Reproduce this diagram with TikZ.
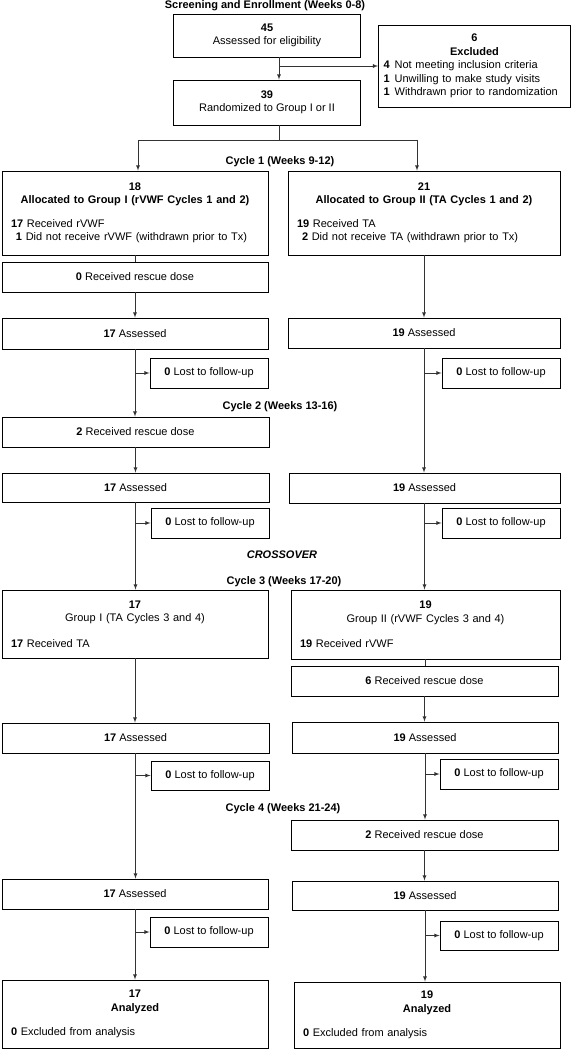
\documentclass[tikz,border=0pt]{standalone}
\usepackage{fontspec}
\setmainfont{Liberation Sans}
\setlength{\parindent}{0pt}

\begin{document}
\begin{tikzpicture}[x=1pt, y=-1pt, >=latex,
    box/.style={draw, line width=0.9pt, inner sep=0pt, minimum height=30pt, align=center, font=\fontsize{11}{13.5}\selectfont},
    info/.style={box, align=left, inner xsep=9pt},
    link/.style={draw=black!80, line width=0.8pt},
    phase/.style={font=\fontsize{11}{13.5}\selectfont\bfseries}]
\useasboundingbox (0,0) rectangle (572,1050);

% screening
\node[phase] (screen) at (265,6) {Screening and Enrollment (Weeks 0-8)};
\node[box, minimum width=187pt, minimum height=43pt] (elig) at (267,35.5) {\textbf{45}\\Assessed for eligibility};
\node[info, inner xsep=5pt, text width=182pt, minimum height=82pt] (excl) at (474.5,66) {{\centering\textbf{6}\\\textbf{Excluded}\par}\mbox{\textbf{4}\hspace{5pt}Not meeting inclusion criteria}\\\mbox{\textbf{1}\hspace{5pt}Unwilling to make study visits}\\\mbox{\textbf{1}\hspace{5pt}Withdrawn prior to randomization}};
\node[box, minimum width=187pt, minimum height=45pt] (rand) at (267,102.5) {\textbf{39}\\Randomized to Group I or II};

% cycle 1 and 2
\node[phase] (cyc1) at (280,162) {Cycle 1 (Weeks 9-12)};
\node[info, text width=248pt, minimum width=266pt, minimum height=84pt] (allocA) at (135,213) {{\centering\textbf{18}\\\textbf{Allocated to Group I (rVWF Cycles 1 and 2)}\par}\vspace{10pt}\textbf{17} Received rVWF\\\hspace*{5pt}\textbf{1} Did not receive rVWF (withdrawn prior to Tx)};
\node[info, text width=254pt, minimum width=272pt, minimum height=84pt] (allocB) at (424,213) {{\centering\textbf{21}\\\textbf{Allocated to Group II (TA Cycles 1 and 2)}\par}\vspace{10pt}\textbf{19} Received TA\\\hspace*{5pt}\textbf{2} Did not receive TA (withdrawn prior to Tx)};

\coordinate (trunk) at ([xshift=12pt]elig.south);
\coordinate (randout) at ([xshift=12pt]rand.south);
\coordinate (split) at (279,140);
\draw[link,->] (trunk) -- ([xshift=12pt]rand.north);
\draw[link,->] (trunk |- excl.west) -- (excl.west);
\draw[link] (randout) -- (split);
\draw[link,->] (split) -| ([xshift=3pt]allocA.north);
\draw[link,->] (split) -| ([xshift=-7pt]allocB.north);

\node[box, minimum width=266pt] (resA1) at (135,277) {\textbf{0} Received rescue dose};
\node[box, minimum width=266pt, minimum height=31pt] (asA1) at (135,333.5) {\textbf{17} Assessed};
\node[box, minimum width=272pt] (asB1) at (424,333) {\textbf{19} Assessed};
\node[box, minimum width=118pt] (lostA1) at (209,373) {\textbf{0} Lost to follow-up};
\node[box, minimum width=118pt] (lostB1) at (501,373) {\textbf{0} Lost to follow-up};

\node[phase] (cyc2) at (280,407) {Cycle 2 (Weeks 13-16)};
\node[box, minimum width=267pt] (resA2) at (135.5,432) {\textbf{2} Received rescue dose};
\node[box, minimum width=267pt, minimum height=29pt] (asA2) at (135.5,487.5) {\textbf{17} Assessed};
\node[box, minimum width=271pt] (asB2) at (424.5,488) {\textbf{19} Assessed};
\node[box, minimum width=118pt] (lostA2) at (210,523) {\textbf{0} Lost to follow-up};
\node[box, minimum width=118pt] (lostB2) at (501,523) {\textbf{0} Lost to follow-up};

\draw[link] (allocA) -- (resA1);
\draw[link,->] (resA1) -- (asA1);
\draw[link,->] (allocB) -- (asB1);
\draw[link,->] (asA1) -- (asA1 |- resA2.north);
\draw[link,->] (asA1.south |- lostA1.west) -- (lostA1.west);
\draw[link,->] (asB1) -- (asB1 |- asB2.north);
\draw[link,->] (asB1.south |- lostB1.west) -- (lostB1.west);
\draw[link,->] (resA2) -- (asA2);

% crossover, cycle 3 and 4
\node[phase, font=\fontsize{11}{13.5}\selectfont\bfseries\itshape] (cross) at (282,555) {CROSSOVER};
\node[phase] (cyc3) at (284,582) {Cycle 3 (Weeks 17-20)};
\node[info, text width=248pt, minimum width=266pt, minimum height=68pt] (grpA) at (135,624) {{\centering\textbf{17}\\Group I (TA Cycles 3 and 4)\par}\vspace{12pt}\textbf{17} Received TA};
\node[info, text width=251pt, minimum width=269pt, minimum height=69pt] (grpB) at (425.5,624.5) {{\centering\textbf{19}\\Group II (rVWF Cycles 3 and 4)\par}\vspace{12pt}\textbf{19} Received rVWF};

\draw[link,->] (asA2) -- (asA2 |- grpA.north);
\draw[link,->] (asA2.south |- lostA2.west) -- (lostA2.west);
\draw[link,->] (asB2) -- (asB2 |- grpB.north);
\draw[link,->] (asB2.south |- lostB2.west) -- (lostB2.west);

\node[box, minimum width=267pt] (resB3) at (424.5,681) {\textbf{6} Received rescue dose};
\node[box, minimum width=267pt] (asA3) at (135.5,738) {\textbf{17} Assessed};
\node[box, minimum width=266pt, minimum height=31pt] (asB3) at (425,737.5) {\textbf{19} Assessed};
\node[box, minimum width=118pt, minimum height=29pt] (lostA3) at (210,775.5) {\textbf{0} Lost to follow-up};
\node[box, minimum width=118pt] (lostB3) at (499,774) {\textbf{0} Lost to follow-up};

\node[phase] (cyc4) at (283,809) {Cycle 4 (Weeks 21-24)};
\node[box, minimum width=267pt] (resB4) at (424.5,835) {\textbf{2} Received rescue dose};
\node[box, minimum width=266pt] (asA4) at (135,894) {\textbf{17} Assessed};
\node[box, minimum width=266pt, minimum height=29pt] (asB4) at (425,895.5) {\textbf{19} Assessed};
\node[box, minimum width=118pt] (lostA4) at (209,932) {\textbf{0} Lost to follow-up};
\node[box, minimum width=118pt, minimum height=29pt] (lostB4) at (499,935.5) {\textbf{0} Lost to follow-up};

\node[info, text width=248pt, minimum width=266pt, minimum height=68pt] (anA) at (135,1014) {{\centering\textbf{17}\\\textbf{Analyzed}\par}\vspace{11pt}\textbf{0} Excluded from analysis};
\node[info, text width=248pt, minimum width=266pt, minimum height=66pt] (anB) at (427,1015) {{\centering\textbf{19}\\\textbf{Analyzed}\par}\vspace{11pt}\textbf{0} Excluded from analysis};

\draw[link,->] (grpA) -- (grpA |- asA3.north);
\draw[link] (grpB) -- (grpB |- resB3.north);
\draw[link,->] (resB3) -- (resB3 |- asB3.north);
\draw[link,->] (asA3) -- (asA3 |- asA4.north);
\draw[link,->] (asA3.south |- lostA3.west) -- (lostA3.west);
\draw[link,->] (asB3) -- (asB3 |- resB4.north);
\draw[link,->] (asB3.south |- lostB3.west) -- (lostB3.west);
\draw[link,->] (resB4) -- (resB4 |- asB4.north);
\draw[link,->] (asA4) -- (asA4 |- anA.north);
\draw[link,->] (asA4.south |- lostA4.west) -- (lostA4.west);
\draw[link,->] (asB4) -- (asB4 |- anB.north);
\draw[link,->] (asB4.south |- lostB4.west) -- (lostB4.west);

\end{tikzpicture}
\end{document}
